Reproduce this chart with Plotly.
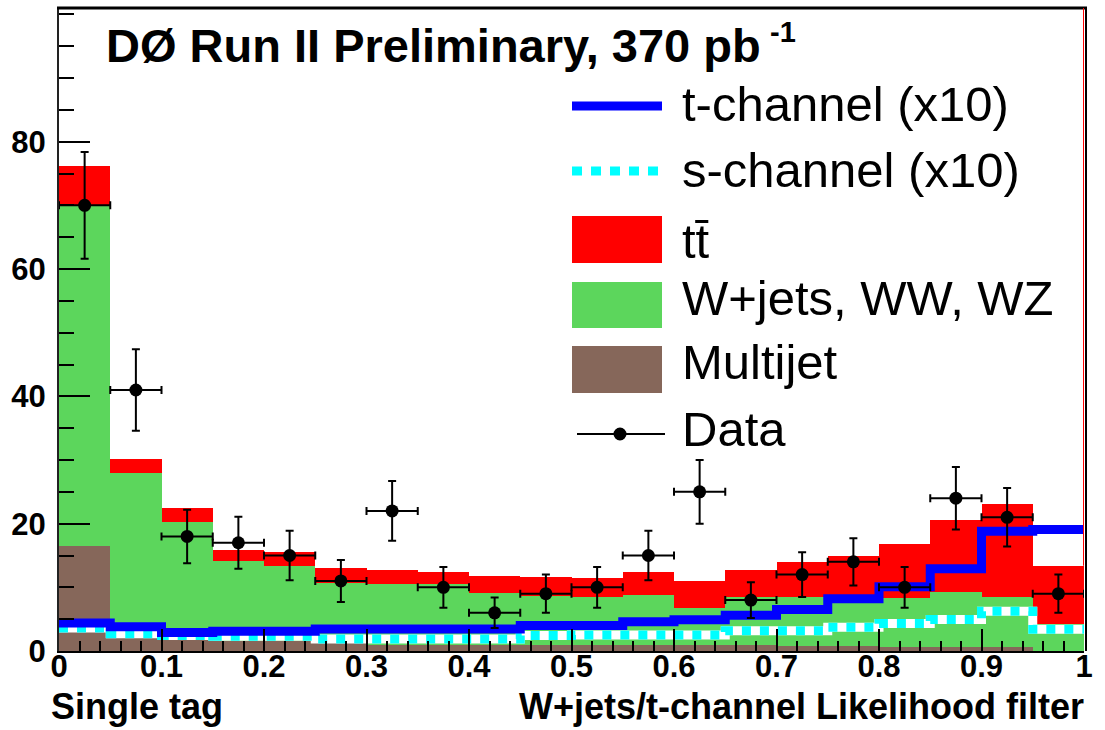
import plotly.graph_objects as go

# ---------------- data ----------------
bin_lo = [0.00, 0.05, 0.10, 0.15, 0.20, 0.25, 0.30, 0.35, 0.40, 0.45,
          0.50, 0.55, 0.60, 0.65, 0.70, 0.75, 0.80, 0.85, 0.90, 0.95]
bin_width = 0.05

multijet = [16.5, 2.0, 1.8, 1.6, 1.5, 1.2, 1.0, 1.0, 1.0, 1.0,
            1.0, 0.9, 0.9, 0.9, 0.8, 0.8, 0.7, 0.7, 0.6, 0.0]
wjets = [53.5, 26.0, 18.5, 12.5, 11.9, 9.5, 9.6, 9.6, 8.1, 7.6,
         7.5, 7.9, 5.8, 7.6, 7.7, 7.5, 7.6, 8.5, 7.9, 4.2]
ttbar = [6.2, 2.1, 2.1, 1.7, 2.2, 2.35, 2.1, 1.8, 2.7, 3.0,
         3.0, 3.6, 4.25, 4.3, 5.5, 6.6, 8.5, 11.3, 14.6, 9.2]
tchan_x10 = [4.4, 3.8, 2.9, 3.1, 3.1, 3.45, 3.45, 3.45, 3.45, 4.0,
             4.0, 4.6, 4.9, 5.6, 6.5, 8.2, 10.1, 12.9, 18.8, 19.1]
schan_x10 = [3.6, 2.7, 2.45, 2.3, 2.3, 1.9, 1.9, 1.9, 1.9, 2.45,
             2.5, 2.5, 2.5, 3.2, 3.2, 3.75, 4.3, 4.95, 6.25, 3.4]
data = [70, 41, 18, 17, 15, 11, 22, 10, 6, 9,
        10, 15, 25, 8, 12, 14, 10, 24, 21, 9]
data_err = [8.4, 6.4, 4.2, 4.1, 3.9, 3.3, 4.7, 3.2, 2.4, 3.0,
            3.2, 3.9, 5.0, 2.8, 3.5, 3.7, 3.2, 4.9, 4.6, 3.0]

x_ticks = [0, 0.1, 0.2, 0.3, 0.4, 0.5, 0.6, 0.7, 0.8, 0.9, 1]
y_ticks = [0, 20, 40, 60, 80]
YMAX = 101

# ---------------- colours / fonts ----------------
RED = "#FF0000"
GREEN = "#5CD65C"
BROWN = "#86675A"
BLUE = "#0000FF"
CYAN = "#00FFFF"
FONT = "Liberation Sans, Arial, Helvetica, sans-serif"

centers = [lo + bin_width / 2 for lo in bin_lo]
edges = bin_lo + [bin_lo[-1] + bin_width]

fig = go.Figure()

for name, vals, col in [("Multijet", multijet, BROWN),
                        ("W+jets, WW, WZ", wjets, GREEN),
                        ("tt\u0304", ttbar, RED)]:
    fig.add_trace(go.Bar(x=centers, y=vals, width=bin_width, name=name,
                         marker=dict(color=col, line=dict(width=0)),
                         showlegend=False))

# s-channel: white underlay + cyan dots
s_step = schan_x10 + [schan_x10[-1]]
fig.add_trace(go.Scatter(x=edges, y=s_step, mode="lines", line_shape="hv",
                         line=dict(color="white", width=9), showlegend=False,
                         hoverinfo="skip"))
fig.add_trace(go.Scatter(x=edges, y=s_step, mode="lines", line_shape="hv",
                         name="s-channel (x10)",
                         line=dict(color=CYAN, width=9, dash="9px,9px"),
                         showlegend=False))
# t-channel
t_step = tchan_x10 + [tchan_x10[-1]]
fig.add_trace(go.Scatter(x=edges, y=t_step, mode="lines", line_shape="hv",
                         name="t-channel (x10)",
                         line=dict(color=BLUE, width=9), showlegend=False))
# data
fig.add_trace(go.Scatter(x=centers, y=data, mode="markers", name="Data",
                         marker=dict(color="black", size=13, symbol="circle"),
                         error_y=dict(type="data", array=data_err, color="black",
                                      thickness=2, width=4),
                         error_x=dict(type="constant", value=bin_width / 2,
                                      color="black", thickness=2, width=4),
                         showlegend=False))

# ---------------- layout ----------------
W, H = 1105, 730
PL, PR, PT, PB = 59, 1084, 8, 651


def px(x):
    return (x - PL) / (PR - PL)


def py(y):
    return (PB - y) / (PB - PT)


fig.update_layout(
    width=W, height=H,
    margin=dict(l=PL, r=W - PR, t=PT, b=H - PB, pad=0),
    paper_bgcolor="white", plot_bgcolor="white",
    barmode="stack", bargap=0,
    showlegend=False,
    xaxis=dict(range=[0, 1], tickvals=x_ticks, ticktext=[str(v) for v in x_ticks],
               ticks="inside", ticklen=22, tickwidth=2, tickcolor="black",
               minor=dict(ticks="inside", ticklen=10, tickwidth=2,
                          tickcolor="black", dtick=0.02, tick0=0),
               showline=True, linecolor="black", linewidth=2,
               showgrid=False, zeroline=False, ticklabelstandoff=-13,
               tickfont=dict(family=FONT, size=31, color="black", weight="bold")),
    yaxis=dict(range=[0, YMAX], tickvals=y_ticks,
               ticks="inside", ticklen=31, tickwidth=2, tickcolor="black",
               minor=dict(ticks="inside", ticklen=15, tickwidth=2,
                          tickcolor="black", dtick=5, tick0=0),
               showline=True, linecolor="#222222", linewidth=2,
               showgrid=False, zeroline=False, ticklabelstandoff=5,
               tickfont=dict(family=FONT, size=31, color="black", weight="bold")),
)

shapes = []
# frame: thick top, right edge
shapes.append(dict(type="line", xref="paper", yref="paper", x0=px(57), x1=px(1087),
                   y0=py(8), y1=py(8), line=dict(color="black", width=3)))
shapes.append(dict(type="line", xref="paper", yref="paper", x0=px(1086), x1=px(1086),
                   y0=0, y1=py(8), line=dict(color="black", width=2)))
shapes.append(dict(type="line", xref="x", yref="y", x0=1, x1=1,
                   y0=multijet[-1] + wjets[-1] + ttbar[-1], y1=YMAX,
                   line=dict(color=RED, width=2)))

# legend (manual, matching the large ROOT legend)
shapes.append(dict(type="line", xref="paper", yref="paper", x0=px(572), x1=px(662),
                   y0=py(106), y1=py(106), line=dict(color=BLUE, width=9)))
shapes.append(dict(type="line", xref="paper", yref="paper", x0=px(572), x1=px(660),
                   y0=py(171), y1=py(171), line=dict(color=CYAN, width=9, dash="10px,9px")))
for (y0, y1, col) in [(216, 263, RED), (282, 328, GREEN), (346, 393, BROWN)]:
    shapes.append(dict(type="rect", xref="paper", yref="paper", x0=px(572), x1=px(662),
                       y0=py(y1), y1=py(y0), fillcolor=col, line=dict(width=0)))
shapes.append(dict(type="line", xref="paper", yref="paper", x0=px(577), x1=px(665),
                   y0=py(434), y1=py(434), line=dict(color="black", width=2)))
shapes.append(dict(type="circle", xref="paper", yref="paper", x0=px(613.5), x1=px(626.5),
                   y0=py(440.5), y1=py(427.5), fillcolor="black", line=dict(width=0)))
fig.update_layout(shapes=shapes)

ann = []
for txt, yc in [("t-channel (x10)", 104), ("s-channel (x10)", 170),
                ("tt\u0304", 241), ("W+jets, WW, WZ", 298),
                ("Multijet", 362), ("Data", 429)]:
    ann.append(dict(text=txt, xref="paper", yref="paper", x=px(680), y=py(yc),
                    xanchor="left", yanchor="middle", showarrow=False,
                    font=dict(family=FONT, size=49, color="black")))
# title
ann.append(dict(text="<b>DØ Run II Preliminary, 370 pb</b>", xref="paper", yref="paper",
                x=px(104), y=py(46), xanchor="left", yanchor="middle", showarrow=False,
                font=dict(family=FONT, size=47, color="black")))
ann.append(dict(text="<b>-1</b>", xref="paper", yref="paper",
                x=px(768), y=py(32), xanchor="left", yanchor="middle", showarrow=False,
                font=dict(family=FONT, size=29, color="black")))
# axis captions
ann.append(dict(text="<b>Single tag</b>", xref="paper", yref="paper",
                x=px(49), y=py(707), xanchor="left", yanchor="middle", showarrow=False,
                font=dict(family=FONT, size=36, color="black")))
ann.append(dict(text="<b>W+jets/t-channel Likelihood filter</b>", xref="paper", yref="paper",
                x=px(1086), y=py(707), xanchor="right", yanchor="middle", showarrow=False,
                font=dict(family=FONT, size=36, color="black")))
fig.update_layout(annotations=ann)

fig.write_html("out.html")
